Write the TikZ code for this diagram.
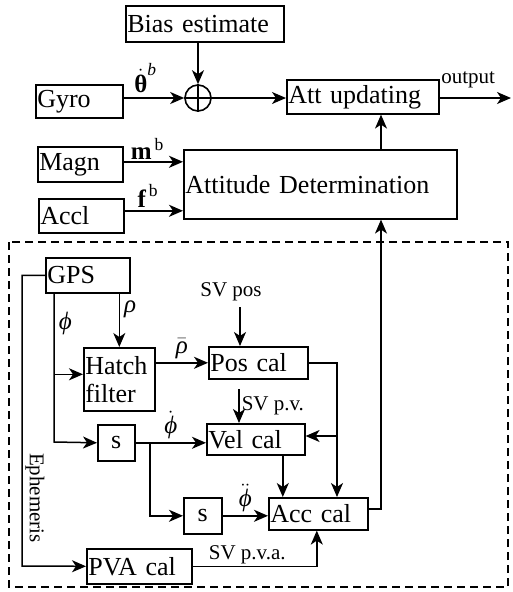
\documentclass[tikz,border=0pt]{standalone}
\usepackage{amsmath,amssymb}
\usepackage{fontspec}
\setmainfont{Liberation Serif}
\usetikzlibrary{arrows.meta,positioning,calc}

\newcommand{\gk}[1]{\text{\itshape #1}}

\tikzset{
	blk/.style={draw, line width=1.6pt, anchor=north west, inner xsep=1.5pt, inner ysep=0pt,
		align=left, font=\fontsize{26}{28}\selectfont},
	lbl/.style={font=\fontsize{21}{23}\selectfont, inner sep=1pt},
	mlbl/.style={font=\fontsize{25}{27}\selectfont, inner sep=1pt},
	arr/.style={line width=1.5pt, -{Stealth[length=14pt,width=12pt,inset=4pt]}},
	wire/.style={line width=1.5pt},
}

\begin{document}
\begin{tikzpicture}[x=1pt,y=-1pt]
	\useasboundingbox (0,0) rectangle (512,592);

	\draw[wire, dash pattern=on 8pt off 5pt] (9,242) rectangle (508,587);

	\node[blk, text width=155pt, minimum height=36pt] (bias) at (125,5) {Bias estimate};
	\node[draw, circle, line width=1.6pt, minimum size=26pt, inner sep=0pt] (sum) at (198,98) {};
	\node[blk, text width=84pt, minimum height=33pt] (gyro) at (35,84) {Gyro};
	\node[blk, text width=149pt, minimum height=34pt] (attup) at (286,79) {Att updating};
	\node[blk, text width=82pt, minimum height=35pt] (magn) at (37,146) {Magn};
	\node[blk, text width=82pt, minimum height=34pt] (accl) at (38,198) {Accl};
	\node[blk, text width=270pt, minimum height=69pt] (attdet) at (183,149) {Attitude Determination};

	\node[blk, text width=81pt, minimum height=35pt] (gps) at (45,257) {GPS};
	\node[blk, text width=68pt, minimum height=63pt] (hatch) at (83,347) {Hatch\\filter};
	\node[blk, text width=96pt, minimum height=32pt] (poscal) at (208,346) {Pos cal};
	\node[blk, text width=95pt, minimum height=31pt] (velcal) at (206,423) {Vel cal};
	\node[blk, text width=34pt, minimum height=36pt, align=center] (s1) at (97,424) {s};
	\node[blk, text width=35pt, minimum height=36pt, align=center] (s2) at (183,497) {s};
	\node[blk, text width=96pt, minimum height=32pt] (acccal) at (268,497) {Acc cal};
	\node[blk, text width=102pt, minimum height=35pt] (pva) at (86,548) {PVA cal};

	\node[lbl] (svpos) at (231,292) {SV pos};
	\node[lbl, rotate=-90] (ephtxt) at (35,498) {Ephemeris};

	\coordinate (outp) at (511,98);
	\coordinate (phi) at (54,442);
	\coordinate (hin) at ([yshift=5pt]hatch.west);
	\coordinate (pvtap) at (337,436);
	\coordinate (svpv) at (239,389);
	\coordinate (br) at (150,442);
	\coordinate (eph) at (22,566);
	\coordinate (tap) at (381,509);

	\draw[wire] (sum.north) -- (sum.south) (sum.west) -- (sum.east);

	\draw[arr] (sum |- bias.south) -- (sum.north);
	\draw[arr] (gyro.east |- sum) -- node[mlbl, pos=0.36, above=4pt] {$\dot{\text{\bfseries θ}}^{\gk{b}}$} (sum.west);
	\draw[arr] (sum.east) -- (attup.west |- sum);
	\draw[arr] (attup.east |- sum) -- node[lbl, pos=0.4, above=8pt] {output} (outp);
	\draw[arr] ([yshift=2.5pt]magn.east) -- node[mlbl, pos=0.4, above=1pt] {$\text{\bfseries m}^{\,\text{b}}$} ([yshift=2.5pt]magn.east -| attdet.west);
	\draw[arr] ([yshift=5pt]accl.east) -- node[mlbl, pos=0.4, above=2pt] {$\text{\bfseries f}^{\,\text{b}}$} ([yshift=5pt]accl.east -| attdet.west);
	\draw[arr] (tap |- attdet.north) -- (tap |- attup.south);

	\draw[arr] (hatch.north |- gps.south) -- node[mlbl, pos=0.3, right=3pt] {\gk{ρ}} (hatch.north);
	\draw[arr] (phi |- gps.south) -- node[mlbl, pos=0.2, right=3pt] {\gk{ϕ}} (phi) -- (s1.west);
	\draw[arr] (phi |- hin) -- (hin);
	\draw[arr] (hatch.east |- poscal) -- node[mlbl, above=2pt] {$\bar{\gk{ρ}}$} (poscal.west);
	\draw[arr, shorten <=5pt] ([xshift=9pt]svpos.south) -- ([xshift=9pt]svpos.south |- poscal.north);
	\draw[arr] (poscal.east) -| (pvtap) -- (pvtap |- acccal.north);
	\draw[arr] (pvtap) -- (pvtap -| velcal.east);
	\draw[arr] (svpv) -- node[lbl, right=1pt] {SV p.v.} (svpv |- velcal.north);
	\draw[arr] (s1.east) -- node[mlbl, above=2pt] {$\dot{\gk{ϕ}}$} (s1.east -| velcal.west);
	\draw[arr] (br) |- (s2.west);
	\draw[arr] (s2.east) -- node[mlbl, above=2pt] {$\ddot{\gk{ϕ}}$} (s2.east -| acccal.west);
	\draw[arr] ([xshift=27pt]velcal.south) -- ([xshift=27pt]velcal.south |- acccal.north);
	\draw[arr] (gps.west) -| (eph) -- (pva.west);
	\draw[arr] (pva.east) -| node[lbl, pos=0.22, above=1pt] {SV p.v.a.} ([xshift=-1.5pt]acccal.south);
	\draw[arr] (acccal.east |- tap) -- (tap) -- (tap |- attdet.south);
\end{tikzpicture}
\end{document}
